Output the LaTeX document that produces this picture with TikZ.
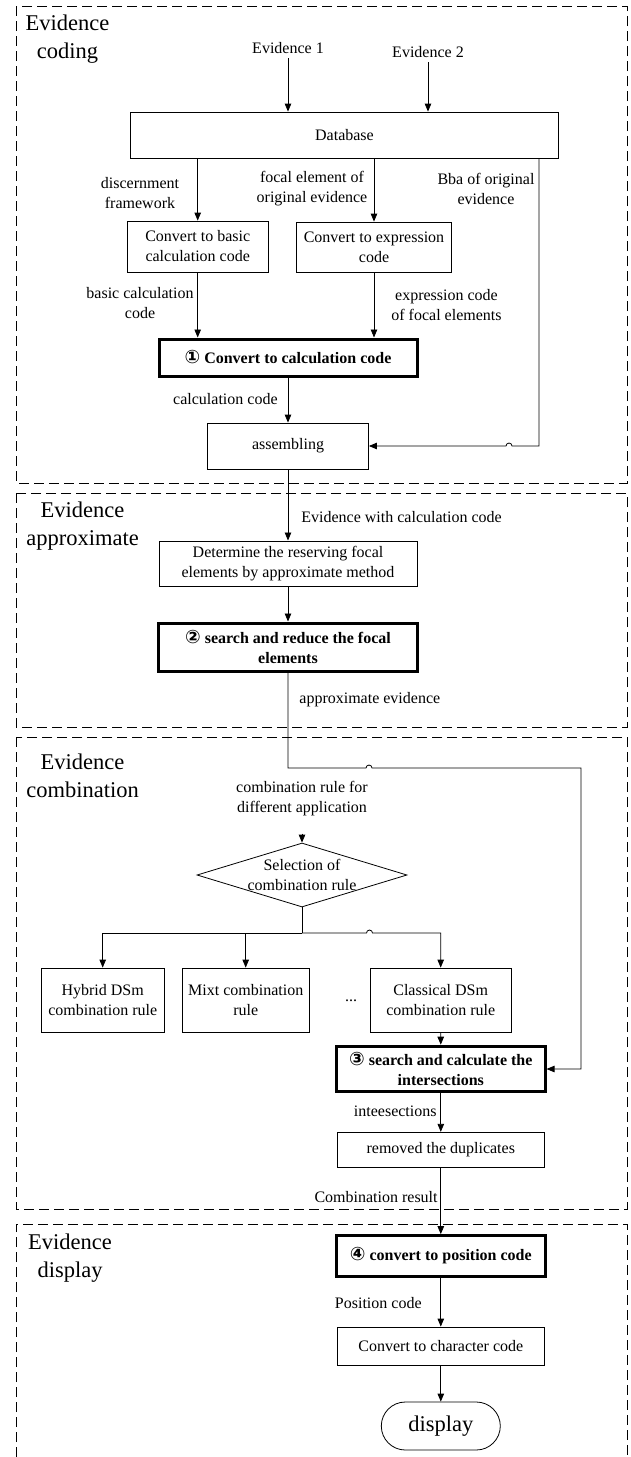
\documentclass[tikz,border=0pt]{standalone}
\usepackage{fontspec}
\setmainfont{Liberation Serif}
\newfontfamily\circfont{DejaVu Sans}
\usetikzlibrary{shapes,arrows.meta,positioning}
\newcommand{\stepno}[1]{{\circfont\bfseries\fontsize{18.5}{20}\selectfont #1}}

\begin{document}
\begin{tikzpicture}[x=1pt, y=-1pt, line width=0.8pt,
    every node/.style={font=\fontsize{16}{20}\selectfont},
    box/.style={rectangle, draw, line width=0.8pt, align=center, inner sep=2pt},
    keybox/.style={box, line width=3pt, font=\fontsize{16}{20}\selectfont\bfseries},
    lbl/.style={align=center, inner sep=0pt},
    phase/.style={align=center, inner sep=0pt, font=\fontsize{22.5}{28}\selectfont},
    panel/.style={draw, line width=0.9pt, dash pattern=on 10pt off 5pt},
    arr/.style={-{Triangle[length=8pt,width=6.5pt]}}]
    \useasboundingbox (0,0) rectangle (630,1457);

    % Phase frames
    \draw[panel] (16,6) rectangle (627,483);
    \draw[panel] (16,493) rectangle (627,727);
    \draw[panel] (16,737) rectangle (627,1209);
    \draw[panel] (16,1457) -- (16,1224) -- (627,1224) -- (627,1457);
    \node[phase] (ph1) at (67.5,39) {Evidence\\coding};
    \node[phase] (ph2) at (82.5,526.5) {Evidence\\approximate};
    \node[phase] (ph3) at (82.5,775.5) {Evidence\\combination};
    \node[phase] (ph4) at (70,1258) {Evidence\\display};

    % Evidence coding
    \node[lbl, inner sep=4pt] (ev1) at (288,48) {Evidence 1};
    \node[lbl, inner sep=4pt] (ev2) at (428,52) {Evidence 2};
    \node[box, minimum width=427.5pt, minimum height=46pt] (db) at (344.5,135) {Database};
    \node[box, minimum width=141pt, minimum height=51pt] (bcc) at (197.7,246.5) {Convert to basic\\calculation code};
    \node[box, minimum width=155pt, minimum height=50pt] (exc) at (374,247) {Convert to expression\\code};
    \node[keybox, minimum width=258pt, minimum height=37pt] (cc) at (288,357.5) {\stepno{①} Convert to calculation code};
    \node[box, minimum width=161pt, minimum height=46pt] (asm) at (288,446) {assembling};
    \coordinate (bbaturn) at (539,446);

    \node[lbl] (l1) at (140,193) {discernment\\framework};
    \node[lbl] (l2) at (312,189) {focal element of\\original evidence};
    \node[lbl] (l3) at (486,189) {Bba of original\\evidence};
    \node[lbl] (l4) at (140,303) {basic calculation\\code};
    \node[lbl] (l5) at (446.5,305.5) {expression code\\of focal elements};
    \node[lbl, anchor=east] (l6) at (278,399) {calculation code};

    \draw[arr] (ev1.south) -- (ev1.south |- db.north);
    \draw[arr] (ev2.south) -- (ev2.south |- db.north);
    \draw[arr] (bcc.north |- db.south) -- (bcc.north);
    \draw[arr] (exc.north |- db.south) -- (exc.north);
    \draw[arr] (bcc.south) -- (bcc.south |- cc.north);
    \draw[arr] (exc.south) -- (exc.south |- cc.north);
    \draw[arr] (cc.south) -- (asm.north);
    \draw[arr] (db.south -| bbaturn) -- (bbaturn) -- (512,446)
        arc[start angle=0, end angle=180, radius=3pt] -- (asm.east);

    % Evidence approximate
    \node[box, minimum width=258pt, minimum height=45pt] (det) at (288,563.4) {Determine the reserving focal\\elements by approximate method};
    \node[keybox, minimum width=259pt, minimum height=48pt] (red) at (288,647) {\stepno{②} search and reduce the focal\\elements};
    \node[lbl, anchor=west] (l7) at (301,516.7) {Evidence with calculation code};
    \node[lbl, anchor=west] (l8) at (299,700) {approximate evidence};

    \draw[arr] (asm.south) -- (det.north);
    \draw[arr] (det.south) -- (red.north);

    % Evidence combination
    \node[lbl] (rule) at (302,799) {combination rule for\\different application};
    \node[diamond, draw, minimum width=210pt, minimum height=64pt, inner sep=0pt,
          label={[lbl]center:Selection of\\combination rule}] (diam) at (302,875) {};
    \coordinate (fork) at (302,933);
    \node[box, minimum width=122.5pt, minimum height=64pt] (hyb) at (102.7,1000) {Hybrid DSm\\combination rule};
    \node[box, minimum width=127pt, minimum height=64pt] (mixt) at (245.7,1000) {Mixt combination\\rule};
    \node[lbl] (dots) at (351,1001) {...};
    \node[box, minimum width=141pt, minimum height=64pt] (cls) at (440.7,1000) {Classical DSm\\combination rule};
    \node[keybox, minimum width=208.5pt, minimum height=45.6pt] (isc) at (440.8,1069) {\stepno{③} search and calculate the\\intersections};
    \node[box, minimum width=207pt, minimum height=35.5pt] (rmd) at (440.8,1150) {removed the duplicates};
    \node[lbl, anchor=east] (l9) at (437,1111.7) {inteesections};
    \node[lbl, anchor=east] (l10) at (438,1196.7) {Combination result};
    \coordinate (loopR) at (581,768);

    \draw[arr] (red.south) -- (288,768) -- (366,768)
        arc[start angle=180, end angle=0, radius=3pt] -- (loopR) -- (loopR |- isc.east) -- (isc.east);
    \draw[arr] ([yshift=-17pt]rule.south) -- (diam.north);
    \draw (diam.south) -- (fork);
    \draw[arr] (fork) -| (hyb.north);
    \draw[arr] (fork) -| (mixt.north);
    \draw[arr] (fork) -- (366.5,933)
        arc[start angle=180, end angle=0, radius=3pt] -- (cls.north |- fork) -- (cls.north);
    \draw[arr] (cls.south) -- (isc.north);
    \draw[arr] (isc.south) -- (rmd.north);

    % Evidence display
    \node[keybox, minimum width=208.5pt, minimum height=40.7pt] (pos) at (440.8,1256) {\stepno{④} convert to position code};
    \node[box, minimum width=207pt, minimum height=38pt] (chr) at (440.8,1346) {Convert to character code};
    \node[box, rounded corners=24pt, minimum width=119pt, minimum height=48pt,
          font=\fontsize{22.5}{28}\selectfont] (disp) at (440.8,1426) {display};
    \node[lbl, anchor=east] (l11) at (422,1303) {Position code};

    \draw[arr] (rmd.south) -- (pos.north);
    \draw[arr] (pos.south) -- (chr.north);
    \draw[arr] (chr.south) -- (disp.north);
\end{tikzpicture}
\end{document}
